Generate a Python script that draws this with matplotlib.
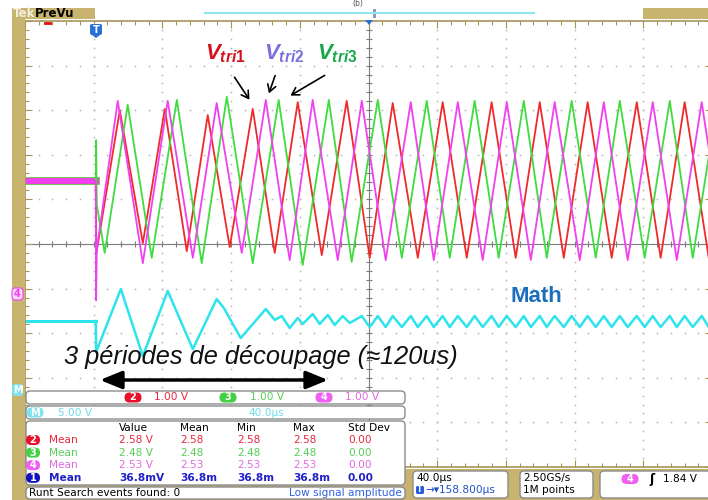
import numpy as np
import matplotlib
matplotlib.use('Agg')
import matplotlib.pyplot as plt
from matplotlib.patches import Rectangle, FancyBboxPatch, Polygon

plt.rcParams['mathtext.fontset'] = 'custom'
plt.rcParams['mathtext.it'] = 'Liberation Sans:italic:bold'
plt.rcParams['mathtext.rm'] = 'Liberation Sans:bold'

# scope settings
time_div = 40.0      # us/div
trig_pos = 158.8     # screen centre, us after trigger
volt_div = 1.0       # ch2..ch4, V/div
math_div = 5.0       # Math, V/div
ch_offset = -1.12    # div, ground of ch2..ch4
math_offset = -3.27  # div, ground of Math

# pre-trigger levels
idle_t = [-41.2, 0.0]
idle_v = 2.53
math_idle_v = 7.72

# triangle carriers, vertices (us after trigger, V)
red_t = [0.0, 0.3, 14.0, 27.4, 40.2, 53.0, 65.2, 78.0, 91.4, 104.2, 117.6, 131.6, 146.1, 159.5,
         172.9, 187.5, 202.0, 216.0, 230.5, 244.5, 258.5, 272.5, 286.4, 300.4, 315.0, 328.9,
         342.9, 356.9, 371.0]
red_v = [2.53, 0.90, 4.12, 1.14, 4.15, 0.96, 4.01, 1.05, 4.15, 0.92, 4.30, 0.87, 4.33, 0.81,
         4.28, 0.81, 4.30, 0.81, 4.30, 0.81, 4.30, 0.81, 4.30, 0.81, 4.30, 0.81,
         4.30, 0.81, 4.30]

mag_t = [0.0, 0.2, 0.6, 12.8, 27.4, 41.9, 56.5, 70.4, 85.0, 99.0, 112.9, 126.3, 140.9, 154.9,
         168.8, 183.4, 196.8, 210.8, 225.3, 239.3, 253.3, 267.2, 281.8, 295.8, 309.7, 324.3,
         338.3, 352.8, 366.8]
mag_v = [2.53, -0.14, 1.00, 4.33, 0.69, 4.33, 0.81, 4.28, 0.92, 4.35, 0.76, 4.35, 0.76, 4.33,
         0.76, 4.30, 0.76, 4.30, 0.76, 4.30, 0.76, 4.30, 0.76, 4.30, 0.76, 4.30,
         0.76, 4.30, 0.76]

grn_t = [0.0, 0.2, 0.6, 5.2, 18.6, 32.6, 47.2, 61.7, 76.3, 91.4, 106.5, 120.5, 135.7, 149.0,
         164.2, 178.2, 192.7, 206.1, 220.6, 234.6, 249.2, 262.6, 277.1, 291.1, 305.1, 319.6,
         334.2, 347.6, 362.1]
grn_v = [2.53, 3.45, 2.00, 0.92, 4.24, 0.81, 4.35, 0.69, 4.42, 0.69, 4.35, 0.65, 4.35, 0.72,
         4.35, 0.81, 4.33, 0.81, 4.33, 0.81, 4.33, 0.81, 4.33, 0.81, 4.33, 0.81,
         4.33, 0.81, 4.33]

math_t = [0.0, 0.2, 14.6, 27.4, 41.9, 56.5, 70.4, 74.5, 84.4, 99.0, 104.2, 108.3, 112.9, 117.6,
          120.5, 126.3, 130.4, 135.1, 139.1, 143.8, 147.9, 154.9, 159.5, 164.2, 168.8, 172.9,
          178.2, 183.4, 187.5, 192.7, 196.8, 202.0, 206.1, 210.8, 216.0, 220.6, 225.3, 230.5,
          234.6, 239.3, 244.5, 249.2, 253.3, 258.5, 262.6, 267.2, 272.5, 277.1, 281.8, 286.4,
          291.1, 295.8, 300.4, 305.1, 309.7, 315.0, 319.6, 324.3, 328.9, 334.2, 338.3, 342.9,
          347.6, 352.8, 356.9, 362.1]
math_v = [7.72, 4.24, 11.30, 3.79, 11.08, 4.57, 10.18, 9.20, 5.81, 9.06, 7.83, 8.28, 6.93, 8.05,
          7.38, 8.50, 7.38, 8.39, 7.27, 8.27, 7.50, 8.27, 7.04, 8.28, 7.04, 8.28,
          7.04, 8.28, 7.04, 8.28, 7.04, 8.28, 7.04, 8.28, 7.04, 8.28, 7.04, 8.28,
          7.04, 8.28, 7.04, 8.28, 7.04, 8.28, 7.04, 8.28, 7.04, 8.28, 7.04, 8.28,
          7.04, 8.28, 7.04, 8.28, 7.04, 8.28, 7.04, 8.28, 7.04, 8.28, 7.04, 8.28,
          7.04, 8.28, 7.04, 8.28]

# measurement table
meas_cols = ['Value', 'Mean', 'Min', 'Max', 'Std Dev']
meas_ch = ['2', '3', '4', '1']
meas_rows = [['2.58 V', '2.58', '2.58', '2.58', '0.00'],
             ['2.48 V', '2.48', '2.48', '2.48', '0.00'],
             ['2.53 V', '2.53', '2.53', '2.53', '0.00'],
             ['36.8mV', '36.8m', '36.8m', '36.8m', '0.00']]
scale_labels = ['1.00 V', '1.00 V', '1.00 V']
runt_count = 0
trig_level = '1.84 V'

RED = '#f02a2a'
GRN = '#3edc3e'
MAG = '#f040f0'
CYN = '#2ee4ec'
TAN = '#c9b46f'
TAN_D = '#a8945a'
row_col = ['#e8283a', '#55cf55', '#e06ae0', '#2020c8']
pill_col = ['#e8102a', '#44d044', '#f060f0', '#1010c0']

fig = plt.figure(figsize=(7.08, 5.0), dpi=100)
fig.patch.set_facecolor('white')

ax = fig.add_axes([25 / 708, 33 / 500, 687 / 708, 446 / 500])
x0 = trig_pos - 5 * time_div
x1 = trig_pos + 5 * time_div
ax.set_xlim(x0, x1)
ax.set_ylim(-5, 5)
ax.set_xticks(x0 + time_div * np.arange(11))
ax.set_xticks(x0 + time_div / 5 * np.arange(51), minor=True)
ax.set_yticks(np.arange(-5, 6))
ax.set_yticks(np.arange(-5, 5.01, 0.2), minor=True)
ax.tick_params(which='both', direction='in', top=True, right=True,
               labelbottom=False, labelleft=False, color=TAN_D, width=0.8)
ax.tick_params(which='major', length=5)
ax.tick_params(which='minor', length=3)
for s in ax.spines.values():
    s.set_color(TAN_D)
    s.set_linewidth(1.2)

# dotted graticule
gx = x0 + time_div / 5 * np.arange(51)
gy = np.arange(-5, 5.01, 0.2)
for k in range(1, 10):
    if k == 5:
        continue
    ax.plot(np.full(gy.size, x0 + k * time_div), gy, ls='none', marker='s', ms=1.1,
            color='#b4b4b4', mew=0, zorder=1)
for j in range(-4, 5):
    if j == 0:
        continue
    ax.plot(gx, np.full(gx.size, j), ls='none', marker='s', ms=1.1,
            color='#b4b4b4', mew=0, zorder=1)
ax.axhline(0, color='#7c7c7c', lw=0.8, zorder=1)
ax.axvline(trig_pos, color='#7c7c7c', lw=0.8, zorder=1)
ax.plot(gx, np.zeros(gx.size), ls='none', marker='|', ms=4, mew=0.8, color='#7c7c7c', zorder=1)
ax.plot(np.full(gy.size, trig_pos), gy, ls='none', marker='_', ms=4, mew=0.8,
        color='#7c7c7c', zorder=1)

def to_div(v, vd, off):
    return np.asarray(v) / vd + off

# pre-trigger band
idle_y = to_div([idle_v, idle_v], volt_div, ch_offset)
ax.plot(idle_t, idle_y, color=GRN, lw=5.5, zorder=2)
ax.plot(idle_t, idle_y, color=RED, lw=4.5, zorder=2)
ax.plot(idle_t, idle_y, color=MAG, lw=4.2, zorder=2)
ax.plot(idle_t, to_div([math_idle_v] * 2, math_div, math_offset), color=CYN, lw=2.2, zorder=2)

ax.plot(red_t, to_div(red_v, volt_div, ch_offset), color=RED, lw=1.3, zorder=3)
ax.plot(grn_t, to_div(grn_v, volt_div, ch_offset), color=GRN, lw=1.3, zorder=3)
ax.plot(mag_t, to_div(mag_v, volt_div, ch_offset), color=MAG, lw=1.3, zorder=3)
ax.plot(math_t, to_div(math_v, math_div, math_offset), color=CYN, lw=1.8, zorder=3)

# overlay in screen pixels for the scope chrome and annotations
ui = fig.add_axes([0, 0, 1, 1], zorder=5)
ui.set_xlim(0, 708)
ui.set_ylim(500, 0)
ui.axis('off')
ui.patch.set_visible(False)

ui.add_patch(Rectangle((12, 8), 13, 492, fc=TAN, ec='none'))
ui.add_patch(Rectangle((12, 8), 83, 11, fc=TAN, ec='none'))
ui.add_patch(Rectangle((643, 8), 70, 11, fc=TAN, ec='none'))
ui.add_patch(Rectangle((12, 469), 700, 31, fc=TAN, ec='none'))
ui.plot([205, 534], [13, 13], color='#8fe6ee', lw=1.5)
ui.add_patch(Rectangle((373, 9), 3, 9, fc='#8a9ab8', ec='none'))
ui.text(13, 13.5, 'Tek', color='#f4eedc', fontsize=8.5, fontweight='bold', va='center')
ui.text(35, 13.5, 'PreVu', color='black', fontsize=8.5, fontweight='bold', va='center')
ui.text(358, 3.5, '(b)', color='#555555', fontsize=5.5, ha='center', va='center')
ui.plot([45, 50], [23, 23], color='#e01010', lw=2)
ui.add_patch(Polygon([[365, 20], [373, 20], [369, 25]], fc='#2a6ed8', ec='none'))
ui.add_patch(FancyBboxPatch((90, 24), 12, 11, boxstyle='round,pad=0,rounding_size=2',
                            fc='#2a6ed8', ec='none'))
ui.add_patch(Polygon([[92, 35], [100, 35], [96, 38]], fc='#2a6ed8', ec='none'))
ui.text(96, 30, 'T', color='white', fontsize=7, fontweight='bold', ha='center', va='center')

# side markers
ui.add_patch(FancyBboxPatch((12, 288), 11, 12, boxstyle='round,pad=0,rounding_size=3',
                            fc='#fad6fa', ec=MAG, lw=0.8))
ui.text(17.5, 294, '4', color=MAG, fontsize=7, fontweight='bold', ha='center', va='center')
ui.add_patch(FancyBboxPatch((12, 384), 11, 12, boxstyle='round,pad=0,rounding_size=3',
                            fc='#7ee2f0', ec='none'))
ui.text(17.5, 390, 'M', color='white', fontsize=7, fontweight='bold', ha='center', va='center')

# annotations
ui.text(205, 59, r'$V_{\mathit{tri1}}$', color='#d4101e', fontsize=16)
ui.text(264, 59, r'$V_{\mathit{tri2}}$', color='#7b6fdc', fontsize=16)
ui.text(317, 59, r'$V_{\mathit{tri3}}$', color='#17a84b', fontsize=16)
for (tx, ty), (hx, hy) in [((233, 75), (251, 102)), ((276, 73), (268, 96)),
                           ((327, 74), (288, 97))]:
    ui.annotate('', xy=(hx, hy), xytext=(tx, ty),
                arrowprops=dict(arrowstyle='->,head_length=0.5,head_width=0.3',
                                color='black', lw=1.2))
ui.text(510, 297, 'Math', color='#1a6fbd', fontsize=16, fontweight='bold',
        family=['Liberation Sans', 'DejaVu Sans'], va='center')
ui.text(64, 357, '3 périodes de découpage (\u2248120us)', color='#111111', fontsize=18.3,
        style='italic', family=['Liberation Sans', 'DejaVu Sans'], va='center')
ui.annotate('', xy=(328, 380), xytext=(100, 380),
            arrowprops=dict(arrowstyle='<|-|>,head_length=1.1,head_width=0.45',
                            color='black', lw=2.5, mutation_scale=12,
                            shrinkA=0, shrinkB=0))

def box(xa, ya, xb, yb):
    ui.add_patch(FancyBboxPatch((xa, ya), xb - xa, yb - ya,
                                boxstyle='round,pad=0,rounding_size=4',
                                fc='white', ec='#8c8c8c', lw=1))

def pill(x, y, w, h, fc, label):
    ui.add_patch(FancyBboxPatch((x - w / 2, y - h / 2), w, h,
                                boxstyle='round,pad=0,rounding_size=%g' % (h / 2),
                                fc=fc, ec='none'))
    ui.text(x, y, label, color='white', fontsize=7, fontweight='bold', ha='center', va='center')

fs = 7.6
# channel scales
box(26, 391, 405, 404)
for i, (cx, tx) in enumerate([(133, 154), (228, 250), (324, 345)]):
    pill(cx, 397.5, 17, 10, pill_col[i], meas_ch[i])
    ui.text(tx, 397.5, scale_labels[i], color=row_col[i], fontsize=fs, va='center')
box(26, 406, 405, 419)
pill(35, 412.5, 17, 10, '#7ee2f0', 'M')
ui.text(58, 412.5, '5.00 V', color='#6fdcee', fontsize=fs, va='center')
ui.text(248, 412.5, '40.0\u00b5s', color='#6fdcee', fontsize=fs, va='center')

# measurements
box(26, 421, 405, 485)
col_x = [119, 180, 237, 293, 348]
for cx, name in zip(col_x, meas_cols):
    ui.text(cx, 428, name, color='black', fontsize=fs, va='center')
for r, (ch, vals) in enumerate(zip(meas_ch, meas_rows)):
    yy = 440 + r * 12.6
    wt = 'bold' if ch == '1' else 'normal'
    pill(33, yy, 14, 10, pill_col[r], ch)
    ui.text(49, yy, 'Mean', color=row_col[r], fontsize=fs, va='center', fontweight=wt)
    for cx, v in zip(col_x, vals):
        ui.text(cx, yy, v, color=row_col[r], fontsize=fs, va='center', fontweight=wt)
box(26, 487, 405, 499)
ui.text(29, 493, 'Runt Search events found: %d' % runt_count, color='black', fontsize=fs,
        va='center')
ui.text(402, 493, 'Low signal amplitude', color='#3060e0', fontsize=fs, va='center', ha='right')

# timebase / acquisition / trigger readouts
box(413, 471, 508, 498)
ui.text(416, 478, '40.0\u00b5s', color='black', fontsize=fs, va='center')
ui.add_patch(FancyBboxPatch((416, 486), 8, 8, boxstyle='round,pad=0,rounding_size=1.5',
                            fc='#2a5ed8', ec='none'))
ui.text(420, 490, 'T', color='white', fontsize=5.5, fontweight='bold', ha='center', va='center')
ui.text(425, 490, '\u2192\u25be158.800\u00b5s', color='#1f4fc8', fontsize=fs, va='center')
box(520, 471, 593, 498)
ui.text(523, 478, '2.50GS/s', color='black', fontsize=fs, va='center')
ui.text(523, 490, '1M points', color='black', fontsize=fs, va='center')
box(600, 471, 716, 498)
pill(630, 479, 17, 10, '#f060f0', '4')
ui.text(649, 479, '\u0283', color='black', fontsize=9, fontweight='bold', va='center')
ui.text(663, 479, trig_level, color='black', fontsize=fs, va='center')

fig.savefig('out.png', dpi=100)
